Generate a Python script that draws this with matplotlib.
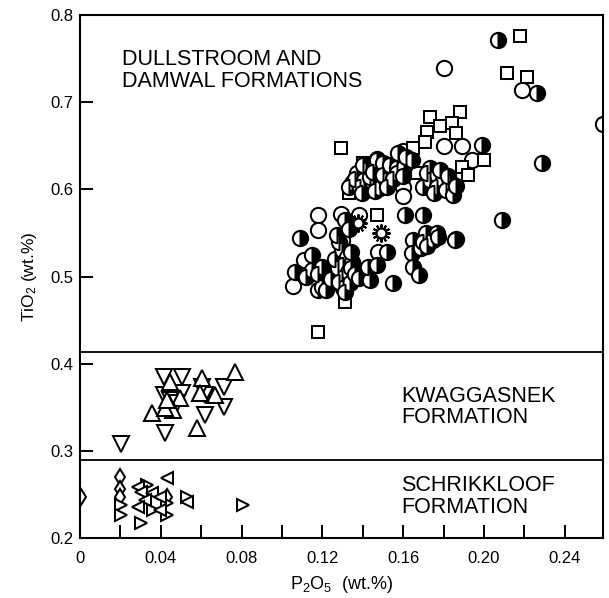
import matplotlib
matplotlib.use("Agg")
import matplotlib.pyplot as plt
from matplotlib.ticker import FixedLocator

plt.rcParams['font.family'] = ['Liberation Sans', 'DejaVu Sans']
plt.rcParams['mathtext.fontset'] = 'custom'
plt.rcParams['mathtext.rm'] = 'Liberation Sans'
plt.rcParams['mathtext.it'] = 'Liberation Sans'

# ---------------- data (P2O5 wt.%, TiO2 wt.%) ----------------
# Dullstroom & Damwal formations
open_circle_x = [0.180, 0.219, 0.2587, 0.180, 0.189, 0.160, 0.147, 0.194, 0.160, 0.160,
                 0.118, 0.118, 0.129, 0.138, 0.1295, 0.111, 0.1052, 0.1473]
open_circle_y = [0.739, 0.714, 0.675, 0.650, 0.650, 0.644, 0.635, 0.634, 0.603, 0.592,
                 0.571, 0.553, 0.572, 0.571, 0.542, 0.519, 0.489, 0.528]

half_circle_x = [0.2067, 0.226, 0.2285, 0.199, 0.2087, 0.161, 0.170, 0.186, 0.109,
                 0.1468, 0.1498, 0.1532, 0.1567, 0.1606, 0.1641, 0.1418, 0.1369, 0.1408,
                 0.1448, 0.1483, 0.1517, 0.1567, 0.1384, 0.1344, 0.1433, 0.1616, 0.1572,
                 0.140, 0.145, 0.150, 0.155, 0.160, 0.136, 0.1395, 0.133, 0.146, 0.152,
                 0.173, 0.1765, 0.1795, 0.183, 0.173, 0.1765, 0.1814, 0.1844, 0.1716,
                 0.178, 0.182, 0.186, 0.175, 0.170,
                 0.152, 0.1468, 0.1433, 0.1547, 0.1646, 0.1641, 0.1646, 0.168, 0.1715,
                 0.1745, 0.1765, 0.1854, 0.169, 0.170, 0.177, 0.172,
                 0.1295, 0.132, 0.130, 0.1324, 0.1295, 0.1334, 0.130, 0.1275, 0.1344,
                 0.128, 0.134, 0.126, 0.134, 0.128, 0.136, 0.131,
                 0.1062, 0.1176, 0.120, 0.115, 0.120, 0.115, 0.122, 0.138, 0.1423,
                 0.112, 0.124, 0.118,
                 0.131, 0.133, 0.127]
half_circle_y = [0.771, 0.7105, 0.630, 0.651, 0.565, 0.570, 0.570, 0.543, 0.544,
                 0.6337, 0.6303, 0.628, 0.6245, 0.6257, 0.6337, 0.6222, 0.6188, 0.6108,
                 0.6073, 0.6016, 0.6108, 0.6188, 0.6028, 0.6073, 0.6142, 0.6372, 0.6417,
                 0.628, 0.620, 0.617, 0.612, 0.615, 0.612, 0.596, 0.603, 0.598, 0.603,
                 0.6245, 0.6165, 0.6108, 0.6085, 0.6108, 0.6028, 0.5993, 0.5936, 0.6188,
                 0.622, 0.615, 0.604, 0.596, 0.603,
                 0.528, 0.513, 0.496, 0.4927, 0.542, 0.527, 0.511, 0.502, 0.550,
                 0.542, 0.550, 0.542, 0.533, 0.540, 0.545, 0.535,
                 0.5305, 0.5225, 0.513, 0.5053, 0.4984, 0.4927, 0.487, 0.5099, 0.5167,
                 0.540, 0.528, 0.520, 0.510, 0.494, 0.503, 0.482,
                 0.5053, 0.4846, 0.488, 0.5248, 0.511, 0.5075, 0.4846, 0.4984, 0.511,
                 0.500, 0.497, 0.503,
                 0.565, 0.555, 0.548]

square_x = [0.2176, 0.2116, 0.2215, 0.200, 0.173, 0.188, 0.178, 0.184, 0.172, 0.186,
            0.171, 0.165, 0.129, 0.189, 0.192, 0.167, 0.140, 0.133, 0.147, 0.1314, 0.118]
square_y = [0.776, 0.7335, 0.729, 0.634, 0.683, 0.689, 0.673, 0.676, 0.666, 0.665,
            0.654, 0.647, 0.647, 0.626, 0.617, 0.619, 0.630, 0.596, 0.571, 0.4709, 0.4365]

sun_x = [0.1374, 0.149]
sun_y = [0.5614, 0.5496]

# Kwaggasnek formation
down_tri_x = [0.0205, 0.0413, 0.0507, 0.0413, 0.0507, 0.0418, 0.0616, 0.0715, 0.0715,
              0.0616, 0.0443, 0.0478, 0.0606]
down_tri_y = [0.308, 0.385, 0.385, 0.3642, 0.3665, 0.3206, 0.3413, 0.3734, 0.3505,
              0.3642, 0.3585, 0.355, 0.3734]
up_tri_x = [0.0765, 0.0606, 0.0443, 0.0354, 0.0577, 0.0666, 0.0493, 0.0458, 0.0418,
            0.0592, 0.0428]
up_tri_y = [0.3906, 0.3837, 0.3791, 0.3436, 0.3264, 0.3642, 0.3608, 0.347, 0.3493,
            0.3665, 0.3585]

# Schrikkloof formation
diamond_x = [0.0007, 0.020, 0.020, 0.020, 0.0428]
diamond_y = [0.2473, 0.2702, 0.2560, 0.2473, 0.2473]
right_tri_x = [0.0205, 0.0205, 0.0805, 0.0527, 0.0304, 0.0428, 0.0329, 0.0359, 0.0428]
right_tri_y = [0.2381, 0.2266, 0.2381, 0.2473, 0.2174, 0.2266, 0.261, 0.2323, 0.2404]
left_tri_x = [0.0428, 0.0527, 0.0285, 0.0304, 0.0354, 0.032, 0.0394, 0.0394, 0.0285]
left_tri_y = [0.269, 0.2415, 0.2587, 0.253, 0.2518, 0.2438, 0.2323, 0.2473, 0.2358]

boundary_upper = 0.4134
boundary_lower = 0.2895

x_major = [0, 0.04, 0.08, 0.12, 0.16, 0.20, 0.24]
x_major_labels = ['0', '0.04', '0.08', '0.12', '0.16', '0.20', '0.24']
x_minor = [0.02, 0.06, 0.10, 0.14, 0.18, 0.22]
y_major = [0.2, 0.3, 0.4, 0.5, 0.6, 0.7, 0.8]
y_major_labels = ['0.2', '0.3', '0.4', '0.5', '0.6', '0.7', '0.8']

# ---------------- figure ----------------
fig = plt.figure(figsize=(6.09, 5.98), dpi=100)
ax = fig.add_axes([0.1315, 0.1003, 0.858, 0.8746])

mew = 1.45
common = dict(linestyle='none', markeredgecolor='black', markeredgewidth=mew)

ax.plot(open_circle_x, open_circle_y, marker='o', markersize=11,
        markerfacecolor='white', **common)
ax.plot(square_x, square_y, marker='s', markersize=9,
        markerfacecolor='white', **common)
ax.plot(half_circle_x, half_circle_y, marker='o', markersize=11, fillstyle='right',
        markerfacecolor='black', markerfacecoloralt='white', **common)
ax.plot(sun_x, sun_y, marker=(12, 2, 0), markersize=13, **common)
ax.plot(sun_x, sun_y, marker='o', markersize=7, markerfacecolor='white', **common)

ax.plot(down_tri_x, down_tri_y, marker='v', markersize=11,
        markerfacecolor='white', **common)
ax.plot(up_tri_x, up_tri_y, marker='^', markersize=11,
        markerfacecolor='white', **common)

ax.plot(diamond_x, diamond_y, marker='d', markersize=8.5,
        markerfacecolor='white', **common)
ax.plot(right_tri_x, right_tri_y, marker='>', markersize=8,
        markerfacecolor='white', **common)
ax.plot(left_tri_x, left_tri_y, marker='<', markersize=8,
        markerfacecolor='white', **common)

ax.axhline(boundary_upper, color='black', linewidth=1.3)
ax.axhline(boundary_lower, color='black', linewidth=1.3)

ax.set_xlim(0, 0.2587)
ax.set_ylim(0.2, 0.8)

ax.xaxis.set_major_locator(FixedLocator(x_major))
ax.xaxis.set_minor_locator(FixedLocator(x_minor))
ax.set_xticklabels(x_major_labels)
ax.yaxis.set_major_locator(FixedLocator(y_major))
ax.set_yticklabels(y_major_labels)

ax.tick_params(axis='both', which='both', direction='in', length=9.5, width=1.4,
               top=False, right=False, labelsize=12)
ax.tick_params(axis='x', which='major', pad=9)
ax.tick_params(axis='y', which='major', pad=5)

for s in ax.spines.values():
    s.set_linewidth(1.5)

ax.set_xlabel(r'P$_2$O$_5$  (wt.%)', fontsize=13, labelpad=6)
ax.set_ylabel(r'TiO$_2$ (wt.%)', fontsize=12.5, labelpad=8)

tfs = 15.5
ax.text(0.021, 0.7427, 'DULLSTROOM AND', fontsize=tfs, va='baseline')
ax.text(0.021, 0.7174, 'DAMWAL FORMATIONS', fontsize=tfs, va='baseline')
ax.text(0.159, 0.3562, 'KWAGGASNEK', fontsize=tfs, va='baseline')
ax.text(0.159, 0.3321, 'FORMATION', fontsize=tfs, va='baseline')
ax.text(0.159, 0.2541, 'SCHRIKKLOOF', fontsize=tfs, va='baseline')
ax.text(0.159, 0.2289, 'FORMATION', fontsize=tfs, va='baseline')

fig.savefig('out.png', dpi=100)
